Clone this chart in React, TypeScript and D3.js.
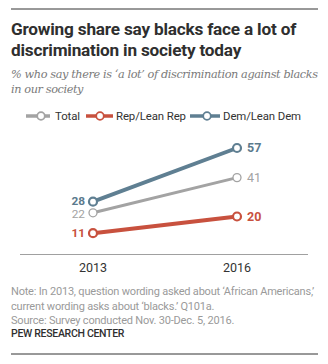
import React from "react";
import * as d3 from "d3";

const years = ["2013", "2016"];
const seriesNames = ["Total", "Rep/Lean Rep", "Dem/Lean Dem"];
const totalValues = [22, 41];
const repValues = [11, 20];
const demValues = [28, 57];
const titleLines = ["Growing share say blacks face a lot of", "discrimination in society today"];
const subtitleLines = ["% who say there is \u2018a lot\u2019 of discrimination against blacks", "in our society"];
const noteLines = [
  "Note: In 2013, question wording asked about \u2018African Americans,\u2019",
  "current wording asks about \u2018blacks.\u2019 Q101a.",
  "Source: Survey conducted Nov. 30-Dec. 5, 2016.",
];
const sourceLabel = "PEW RESEARCH CENTER";

const W = 328;
const H = 364;

export default function App() {
  const x = d3.scalePoint<string>().domain(years).range([93, 237]);
  const y = d3.scaleLinear().domain([0, 57]).range([253.5, 148]);
  const line = d3
    .line<number>()
    .x((_, i) => x(years[i]) as number)
    .y((d) => y(d));

  const series = [
    { name: seriesNames[2], values: demValues, color: "#5f7f92", width: 4, label: "#5b7a8d", bold: true, dy0: 3.2 },
    { name: seriesNames[0], values: totalValues, color: "#a3a3a3", width: 3, label: "#a3a3a3", bold: false, dy0: 4.8 },
    { name: seriesNames[1], values: repValues, color: "#c8513e", width: 4, label: "#c8513e", bold: true, dy0: 4.2 },
  ];
  const drawOrder = [series[1], series[2], series[0]];

  const legend = [
    { name: seriesNames[0], color: "#a3a3a3", x0: 26, cx: 41, x1: 50, tx: 55 },
    { name: seriesNames[1], color: "#c8513e", x0: 86, cx: 100, x1: 113, tx: 116 },
    { name: seriesNames[2], color: "#5f7f92", x0: 190, cx: 207, x1: 220, tx: 223 },
  ];

  const sans = "Roboto, 'Liberation Sans', Arial, sans-serif";

  return (
    <svg width={W} height={H} style={{ position: "absolute", left: 0, top: 0, background: "#fff" }}>
      <rect width={W} height={H} fill="#fff" />
      <line x1={11} x2={318} y1={9} y2={9} stroke="#333" strokeWidth={1} />
      {titleLines.map((t, i) => (
        <text key={t} x={11} y={35 + i * 20.5} fontFamily={sans} fontWeight={700} fontSize={17.2} fill="#2f2f2f" letterSpacing={-0.2}>
          {t}
        </text>
      ))}
      {subtitleLines.map((t, i) => (
        <text key={t} x={11} y={78 + i * 15} fontFamily="'DejaVu Serif', Georgia, serif" fontStyle="italic" fontSize={11.3} fill="#7a7a7a" letterSpacing={-0.4}>
          {t}
        </text>
      ))}

      {legend.map((l) => (
        <g key={l.name}>
          <line x1={l.x0} x2={l.x1} y1={116} y2={116} stroke={l.color} strokeWidth={3.5} />
          <circle cx={l.cx} cy={116} r={3.8} fill="#fff" stroke={l.color} strokeWidth={1.8} />
          <text x={l.tx} y={120} fontFamily={sans} fontSize={11.4} fill="#333" letterSpacing={-0.1}>
            {l.name}
          </text>
        </g>
      ))}

      {drawOrder.map((s) => (
        <g key={s.name}>
          <path d={line(s.values) || ""} fill="none" stroke={s.color} strokeWidth={s.width} />
          {s.values.map((v, i) => (
            <circle key={i} cx={x(years[i]) as number} cy={y(v)} r={4} fill="#fff" stroke={s.color} strokeWidth={s.name === seriesNames[0] ? 1.3 : 2.2} />
          ))}
        </g>
      ))}

      {series.map((s) => (
        <g key={s.name + "lab"}>
          <text x={(x(years[0]) as number) - 8} y={y(s.values[0]) + s.dy0} textAnchor="end" fontFamily={sans} fontSize={11.8} fontWeight={s.bold ? 700 : 400} fill={s.label}>
            {s.values[0]}
          </text>
          <text x={(x(years[1]) as number) + 10} y={y(s.values[1]) + 4.3} textAnchor="start" fontFamily={sans} fontSize={12.5} fontWeight={s.bold ? 700 : 400} fill={s.label}>
            {s.values[1]}
          </text>
        </g>
      ))}

      <line x1={20} x2={308} y1={254.5} y2={254.5} stroke="#a0a0a0" strokeWidth={1} />
      {years.map((yr) => (
        <text key={yr} x={x(yr) as number} y={272} textAnchor="middle" fontFamily={sans} fontSize={12.5} fill="#333">
          {yr}
        </text>
      ))}

      {noteLines.map((t, i) => (
        <text key={t} x={11} y={295 + i * 14.5} fontFamily={sans} fontSize={11} fill="#9a9a9a" letterSpacing={-0.2}>
          {t}
        </text>
      ))}
      <text x={11} y={337} fontFamily={sans} fontSize={10.5} fill="#2f2f2f" fontWeight={500} letterSpacing={-0.3}>
        {sourceLabel}
      </text>
      <line x1={11} x2={318} y1={354} y2={354} stroke="#333" strokeWidth={1} />
    </svg>
  );
}
